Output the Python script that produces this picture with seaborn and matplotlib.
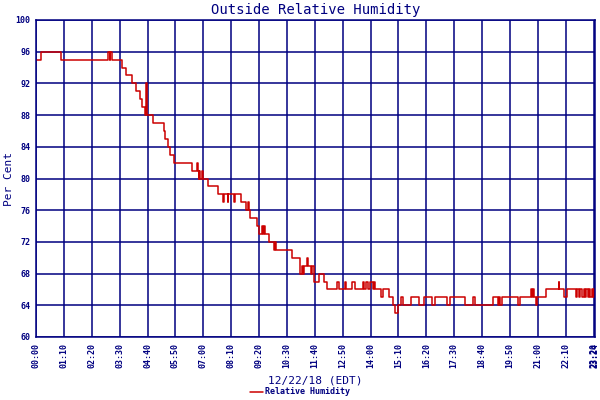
import matplotlib
matplotlib.use("Agg")
import matplotlib.pyplot as plt
import pandas as pd
import seaborn as sns

# minutes since 00:00 where the reading changes, and the reading from then on
MINUTES = [0, 13, 62, 181, 186, 187, 190, 217, 227, 242, 252, 260, 266, 274, 277, 279,
           293, 321, 324, 331, 337, 347, 391, 405, 407, 408, 410, 412, 418, 420,
           433, 456, 470, 472, 481, 483, 497, 499, 514, 527, 532, 534, 537, 556,
           560, 567, 570, 572, 575, 585, 597, 600, 603, 642, 664, 667, 671, 674,
           680, 682, 690, 692, 698, 710, 722, 731, 756, 760, 775, 778, 793, 802,
           820, 824, 828, 833, 838, 845, 849, 852, 866, 871, 887, 897, 902, 910,
           917, 922, 942, 962, 975, 993, 1002, 1031, 1039, 1077, 1097, 1103,
           1148, 1160, 1163, 1166, 1169, 1210, 1214, 1242, 1245, 1247, 1250,
           1255, 1258, 1281, 1312, 1314, 1325, 1333, 1356, 1358, 1364, 1366,
           1372, 1375, 1378, 1381, 1385, 1388, 1392, 1395, 1398, 1401, 1403, 1404]
HUMIDITY = [95, 96, 95, 96, 95, 96, 95, 94, 93, 92, 91, 90, 89, 88, 92, 88,
            87, 86, 85, 84, 83, 82, 81, 82, 81, 80, 81, 80, 81, 80,
            79, 78, 77, 78, 77, 78, 77, 78, 77, 76, 77, 76, 75, 74,
            73, 74, 73, 74, 73, 72, 71, 72, 71, 70, 68, 69, 68, 69,
            70, 69, 68, 69, 67, 68, 67, 66, 67, 66, 67, 66, 67, 66,
            67, 66, 67, 66, 67, 66, 67, 66, 65, 66, 65, 64, 63, 64,
            65, 64, 65, 64, 65, 64, 65, 64, 65, 64, 65, 64,
            65, 64, 65, 64, 65, 64, 65, 66, 65, 66, 65,
            64, 65, 66, 67, 66, 65, 66, 65, 66, 65, 66,
            65, 66, 65, 66, 65, 66, 65, 66, 65, 66, 65, 65]

TICK_MIN = [0, 70, 140, 210, 280, 350, 420, 490, 560, 630, 700, 770, 840,
            910, 980, 1050, 1120, 1190, 1260, 1330, 1400, 1404]
TICK_LABELS = ["00:00", "01:10", "02:20", "03:30", "04:40", "05:50", "07:00",
               "08:10", "09:20", "10:30", "11:40", "12:50", "14:00", "15:10",
               "16:20", "17:30", "18:40", "19:50", "21:00", "22:10", "23:20", "23:24"]
Y_TICKS = [60, 64, 68, 72, 76, 80, 84, 88, 92, 96, 100]

NAVY = "#000080"
RED = "#cc0000"

sns.set_style("white")
plt.rcParams['font.family'] = ['DejaVu Sans Mono']

df = pd.DataFrame({"minute": MINUTES, "rh": HUMIDITY})

fig = plt.figure(figsize=(6, 4), dpi=100)
ax = fig.add_axes([0.06, 0.1575, 0.932, 0.7925])

sns.lineplot(data=df, x="minute", y="rh", ax=ax, color=RED, linewidth=1.1,
             drawstyle="steps-post", estimator=None, label="Relative Humidity",
             legend=False)

ax.set_xlim(0, 1404)
ax.set_ylim(60, 100)
ax.set_xticks(TICK_MIN)
ax.set_xticklabels(TICK_LABELS, rotation=90, fontsize=6, color=NAVY, fontweight="bold")
ax.set_yticks(Y_TICKS)
ax.set_yticklabels([str(v) for v in Y_TICKS], fontsize=6, color=NAVY, fontweight="bold")
ax.tick_params(length=0, pad=4)
ax.grid(True, color=NAVY, linewidth=1.1)
ax.set_axisbelow(True)
for s in ax.spines.values():
    s.set_color(NAVY)
    s.set_linewidth(1.1)

ax.set_title("Outside Relative Humidity", fontsize=10, color=NAVY, pad=4)
ax.set_xlabel("12/22/18 (EDT)", fontsize=8, color=NAVY, labelpad=6)
ax.set_ylabel("Per Cent", fontsize=8, color=NAVY, labelpad=1)

handles, labels = ax.get_legend_handles_labels()
leg = fig.legend(handles, labels, loc="lower center", bbox_to_anchor=(0.5, -0.01),
                 frameon=False, fontsize=6, handlelength=1.5, handletextpad=0.3)
for t in leg.get_texts():
    t.set_color(NAVY)
    t.set_fontweight("bold")

fig.savefig("out.png", dpi=100)
